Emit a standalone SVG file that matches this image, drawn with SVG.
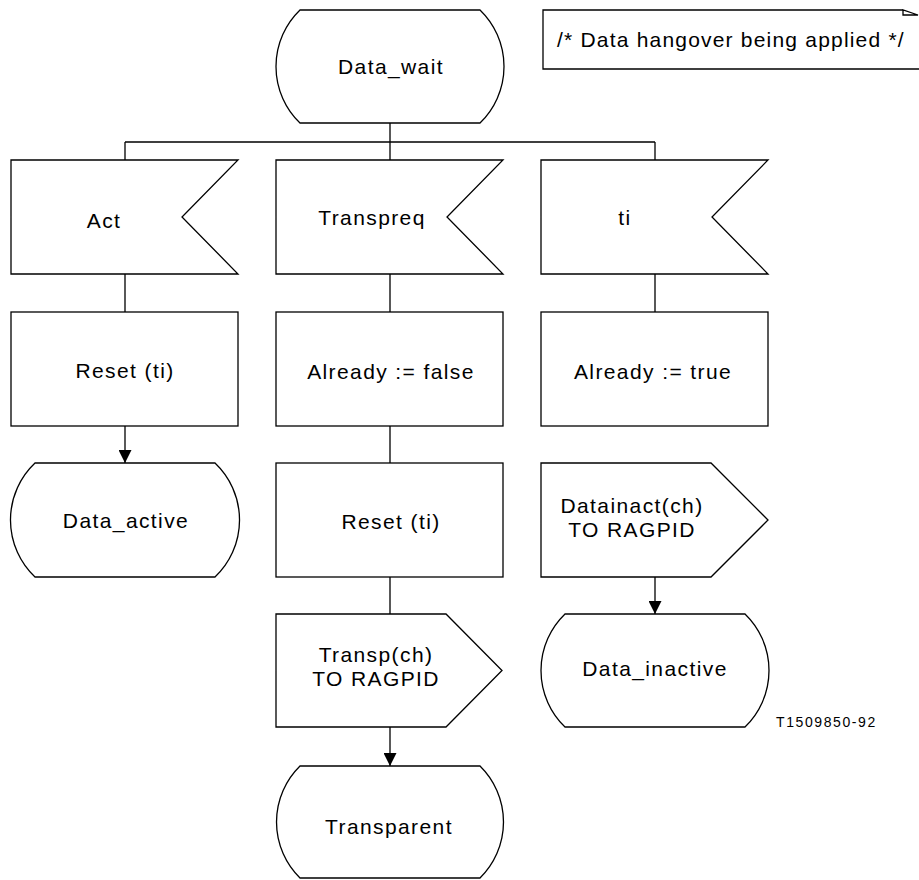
<svg xmlns="http://www.w3.org/2000/svg" width="919" height="880" viewBox="0 0 919 880">
<style>
.s{fill:#fff;stroke:#000;stroke-width:1.3}
.t{font-family:"Liberation Sans",Arial,sans-serif;font-size:21px;letter-spacing:1.4px;fill:#000;text-anchor:middle}
.c{fill:none;stroke:#000;stroke-width:1.3}
</style>
<defs>
<marker id="arr" markerWidth="13" markerHeight="13" refX="13" refY="6.5" orient="auto" markerUnits="userSpaceOnUse"><path d="M0,0 L13,6.5 L0,13 Z" fill="#000"/></marker>
</defs>
<g id="connectors">
<path class="c" d="M390,123 V142 M125,142 H655 M125,142 V160 M390,142 V160 M655,142 V160"/>
<path class="c" d="M125,274 V312 M390,274 V312 M655,274 V312 M390,426 V463 M390,577 V614"/>
<path class="c" d="M125,426 V463" marker-end="url(#arr)"/>
<path class="c" d="M390,727 V766" marker-end="url(#arr)"/>
<path class="c" d="M655,577 V614" marker-end="url(#arr)"/>
</g>
<g id="comment">
<path class="c" d="M903,10 H543 V69 H919"/>
<path class="c" d="M903,10 V15 H918 Z"/>
<text class="t" x="557" y="47" style="text-anchor:start;letter-spacing:1.2px">/* Data hangover being applied */</text>
</g>
<g id="data_wait">
<path class="s" d="M300,10 H480 A78.5,78.5 0 0 1 480,123 H300 A78.5,78.5 0 0 1 300,10 Z"/>
<text class="t" x="391" y="74">Data_wait</text>
</g>
<g id="act">
<path class="s" d="M11,160 H238 L182,217 L238,274 H11 Z"/>
<text class="t" x="104" y="228">Act</text>
</g>
<g id="transpreq">
<path class="s" d="M276,160 H503 L447,217 L503,274 H276 Z"/>
<text class="t" x="372" y="225">Transpreq</text>
</g>
<g id="ti">
<path class="s" d="M541,160 H768 L712,217 L768,274 H541 Z"/>
<text class="t" x="625" y="225">ti</text>
</g>
<g id="reset1">
<rect class="s" x="11" y="312" width="227" height="114"/>
<text class="t" x="125" y="378">Reset (ti)</text>
</g>
<g id="already_false">
<rect class="s" x="276" y="312" width="227" height="114"/>
<text class="t" x="391" y="379">Already := false</text>
</g>
<g id="already_true">
<rect class="s" x="541" y="312" width="227" height="114"/>
<text class="t" x="653" y="379">Already := true</text>
</g>
<g id="data_active">
<path class="s" d="M35,463 H215 A78.5,78.5 0 0 1 215,577 H35 A78.5,78.5 0 0 1 35,463 Z"/>
<text class="t" x="126" y="528">Data_active</text>
</g>
<g id="reset2">
<rect class="s" x="276" y="463" width="227" height="114"/>
<text class="t" x="391" y="529">Reset (ti)</text>
</g>
<g id="datainact">
<path class="s" d="M541,463 H711 L768,520 L711,577 H541 Z"/>
<text class="t" x="632" y="513">Datainact(ch)</text>
<text class="t" x="632" y="537">TO RAGPID</text>
</g>
<g id="transp">
<path class="s" d="M276,614 H446 L502,670.5 L446,727 H276 Z"/>
<text class="t" x="376" y="662">Transp(ch)</text>
<text class="t" x="376" y="686">TO RAGPID</text>
</g>
<g id="data_inactive">
<path class="s" d="M565,614 H745 A78.5,78.5 0 0 1 745,727 H565 A78.5,78.5 0 0 1 565,614 Z"/>
<text class="t" x="655" y="676">Data_inactive</text>
</g>
<g id="transparent">
<path class="s" d="M300,766 H480 A78.5,78.5 0 0 1 480,878 H300 A78.5,78.5 0 0 1 300,766 Z"/>
<text class="t" x="389" y="834">Transparent</text>
</g>
<text x="776" y="727" style="font-family:'Liberation Sans',Arial,sans-serif;font-size:14px;letter-spacing:1.6px">T1509850-92</text>
</svg>
